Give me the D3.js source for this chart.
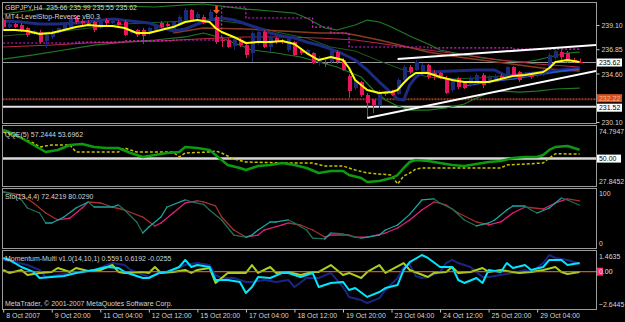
<!DOCTYPE html>
<html>
<head>
  <meta charset="utf-8">
  <title>GBPJPY,H4</title>
  <script src="https://d3js.org/d3.v7.min.js"></script>
  <style>
    body { margin: 0; background: #000; }
    svg { display: block; }
    text { font-family: "Liberation Sans", Arial, sans-serif; font-size: 8px; fill: #d4d4d4; }
  </style>
</head>
<body>
  <div id="chart"></div>
  <script>
    // ---- candles (GBPJPY H4), one value per bar ----
    const candleOpen = [239.56,238.91,239.19,239.10,238.82,238.27,238.45,237.62,237.99,238.36,238.73,238.91,239.75,239.47,239.29,239.38,238.82,239.56,239.29,239.38,
      239.38,238.36,238.64,238.64,238.27,238.64,239.29,239.19,238.45,239.10,239.56,240.49,239.75,239.84,239.56,239.84,237.71,237.71,237.15,237.71,
      237.24,236.50,237.43,238.45,237.06,237.89,237.62,236.78,237.52,236.78,236.41,236.50,235.57,235.57,235.67,236.59,235.85,234.37,233.25,233.81,
      232.60,232.14,231.58,232.79,232.88,232.69,234.00,235.20,234.92,234.65,235.39,234.65,234.65,234.18,233.07,234.18,233.72,233.53,233.72,234.46,
      233.81,234.09,234.37,234.37,235.20,234.74,234.27,234.55,234.46,234.46,234.74,236.04,236.59,236.50,235.85,235.66];
    const candleHigh = [239.75,239.29,239.29,239.29,238.91,238.64,238.64,238.27,238.64,238.91,239.38,239.94,239.94,239.66,239.56,239.47,239.84,239.75,239.56,239.56,
      239.56,238.73,238.73,238.82,238.91,239.19,239.47,239.38,239.47,240.03,240.68,240.58,240.31,240.03,240.58,240.03,237.99,237.89,237.99,237.89,
      237.43,238.54,238.64,238.64,238.17,237.99,237.80,237.99,237.62,236.97,236.87,236.59,236.22,235.85,236.97,236.78,236.04,234.55,234.09,233.90,
      232.79,232.23,233.07,232.97,233.07,234.18,235.39,235.39,235.85,235.57,235.48,234.92,234.74,234.37,234.18,234.27,233.90,234.37,234.65,234.65,
      234.46,234.55,234.55,235.30,235.30,234.83,234.74,234.65,234.83,235.02,236.50,236.87,236.78,236.69,236.04,235.99];
    const candleLow = [238.73,238.82,238.82,238.45,237.99,238.17,237.34,236.97,237.80,238.27,238.64,238.82,239.19,239.10,239.01,238.45,238.73,239.10,239.19,238.91,
      238.08,238.27,237.99,237.34,238.17,238.54,238.82,238.91,238.36,239.01,239.47,239.47,239.66,239.19,239.47,237.34,237.06,236.97,236.78,237.06,
      236.04,235.67,237.24,236.97,236.59,237.34,237.34,236.59,236.22,236.32,236.32,235.48,235.30,235.20,235.48,235.48,234.83,232.33,233.07,232.42,
      230.47,230.93,231.40,232.51,232.51,232.60,233.81,234.55,234.83,234.46,234.09,234.00,234.09,232.69,232.88,233.16,233.16,233.35,233.62,233.25,
      233.62,234.00,234.00,234.18,234.27,233.81,234.18,234.09,234.27,234.37,234.65,235.85,235.85,235.57,235.57,235.55];
    const candleClose = [238.91,239.19,238.91,238.64,238.17,238.54,237.52,238.17,238.45,238.82,239.19,239.75,239.38,239.29,239.19,238.64,239.66,239.29,239.47,239.10,
      238.17,238.64,238.17,238.08,238.82,239.10,238.91,239.01,239.38,239.84,240.49,239.56,240.12,239.29,240.31,237.52,237.62,237.06,237.89,237.24,
      236.32,238.36,238.45,237.06,237.99,237.52,237.52,237.89,236.32,236.50,236.78,235.57,236.04,235.48,236.78,235.67,234.92,232.97,233.90,232.60,
      231.86,231.68,232.88,232.69,232.60,234.00,235.20,234.74,235.67,235.39,234.27,234.46,234.37,232.79,234.00,233.35,233.25,234.18,234.46,233.53,
      234.27,234.37,234.09,235.20,234.46,234.00,234.55,234.27,234.74,234.92,236.32,236.69,236.13,235.67,235.67,235.62];

    // ---- main window indicators, [bar, price] ----
    const emaFast = [[0,238.64],[2,238.64],[4,238.54],[6,238.27],[8,238.36],[10,238.64],[12,238.91],[14,239.10],[16,239.01],[18,239.01],[20,238.82],[22,238.36],[24,238.36],[26,238.64],[28,238.91],[30,239.38],[32,239.56],[34,239.38],[35,238.82],[36,238.45],[38,237.99],[40,237.43],[42,237.52],[44,237.52],[46,237.62],[48,237.34],[50,236.50],[52,235.85],[54,236.13],[56,235.85],[57,235.11],[58,234.00],[60,233.07],[62,232.79],[64,232.88],[65,233.07],[66,233.72],[67,234.27],[68,234.65],[70,234.65],[72,234.27],[74,234.00],[76,233.81],[78,233.81],[80,233.81],[82,234.09],[84,234.37],[86,234.46],[88,234.65],[89,234.74],[90,235.11],[91,235.67],[93,235.85],[95,235.67]];
    const maNavy = [[0,239.47],[3,239.38],[6,239.19],[9,239.19],[12,239.29],[15,239.47],[18,239.66],[21,239.47],[24,239.29],[26,238.91],[28,238.54],[30,238.73],[32,239.19],[34,239.56],[36,239.75],[38,239.56],[40,239.19],[42,238.82],[44,238.36],[46,238.08],[48,237.89],[50,237.52],[52,237.24],[54,236.87],[56,236.41],[58,235.85],[60,234.92],[62,233.81],[64,232.79],[65,232.23],[66,232.14],[67,233.53],[68,234.27],[69,234.65],[70,234.74],[74,234.83],[78,234.92],[81,234.92],[83,234.37],[86,234.55],[89,234.74],[92,234.92],[95,235.11]];
    const maBlue = [[76,233.44],[80,233.81],[84,234.09],[88,234.46],[92,234.83],[95,235.02]];
    const bbUpper = [[0,240.12],[5,240.49],[10,240.77],[15,240.86],[20,240.86],[25,240.77],[30,240.96],[33,241.05],[36,240.86],[40,240.58],[44,240.40],[48,240.21],[50,239.75],[53,238.82],[55,238.64],[58,239.10],[60,239.56],[62,239.38],[64,238.91],[67,238.08],[70,237.34],[72,236.78],[76,236.32],[79,236.04],[83,235.76],[86,235.67],[88,235.85],[90,236.13],[93,236.50],[95,236.59]];
    const bbMiddle = [[0,238.08],[10,238.54],[20,239.19],[30,239.47],[35,239.56],[40,239.19],[45,238.45],[50,237.89],[54,237.06],[58,236.69],[62,235.76],[66,234.92],[70,234.27],[74,234.09],[78,234.18],[82,234.37],[86,234.27],[90,234.65],[95,234.92]];
    const bbLower = [[0,235.94],[5,236.32],[10,236.78],[15,237.24],[20,237.52],[25,237.71],[30,237.99],[33,238.36],[36,237.89],[41,236.78],[45,236.50],[49,236.13],[52,235.67],[55,235.20],[57,234.74],[59,234.27],[61,233.07],[63,232.14],[65,231.58],[67,231.21],[70,231.21],[73,231.40],[76,231.77],[78,232.33],[80,232.79],[82,232.97],[85,232.88],[88,232.97],[91,233.16],[95,233.25]];
    const levelStop = [[0,237.43],[12,237.52],[20,237.62],[28,237.71],[36,240.77],[40,239.75],[51,238.91],[54,238.36],[57,237.06],[70,236.97],[84,236.87],[95,236.87]];
    const maBrown = [[28,238.36],[33,238.82],[40,238.73],[46,238.54],[52,238.36],[56,238.36],[58,238.17],[62,237.71],[66,237.15],[70,236.59],[75,236.13],[80,235.76],[85,235.39],[90,235.02],[95,234.83]];
    const maCrimson = [[0,237.06],[8,237.24],[14,237.43],[20,237.52],[26,237.62],[32,237.80],[40,237.99],[46,237.99],[52,237.89],[58,237.71],[64,237.24],[70,236.78],[76,236.32],[82,235.85],[88,235.48],[95,235.20]];
    const reverseArrowBars = [35];
    const trendLines = [[[60,230.47],[97.7,234.83]], [[65,235.94],[97.7,237.24]]];
    const priceTicks = [239.10, 236.85, 234.60, 230.10];
    const bidPrice = 235.62, levelOrange = 232.22, levelWhite = 231.52;

    // ---- QQE(5) ----
    const qqeMain = [[0,73.56],[1,71.91],[3,66.97],[5,61.20],[7,55.44],[9,57.09],[11,61.20],[13,62.03],[15,59.56],[17,58.73],[19,58.73],[21,54.61],[23,51.32],[25,52.97],[27,54.61],[29,55.44],[30,59.56],[32,58.73],[34,57.09],[36,48.85],[37,44.73],[39,42.26],[40,40.61],[42,43.91],[44,44.73],[46,46.38],[48,44.73],[50,42.26],[52,38.14],[54,39.79],[56,39.79],[57,36.49],[59,34.02],[60,30.73],[62,31.55],[64,34.02],[65,36.49],[66,42.26],[67,47.20],[68,48.85],[70,48.02],[72,46.38],[74,44.73],[76,43.91],[78,45.55],[80,47.20],[82,48.02],[84,50.49],[86,51.32],[88,51.32],[89,52.97],[90,57.09],[91,59.56],[93,60.38],[95,57.24]];
    const qqeSignal = [[0,71.91],[3,66.97],[5,62.85],[6,59.56],[8,61.20],[11,61.20],[12,55.44],[19,55.44],[20,58.73],[22,55.44],[28,55.44],[29,51.32],[30,54.61],[34,55.44],[35,56.26],[36,54.61],[38,49.67],[40,47.20],[47,46.38],[51,46.38],[53,43.91],[56,43.91],[58,40.61],[60,38.14],[64,36.49],[65,29.08],[66,35.67],[67,38.14],[68,41.43],[69,42.26],[82,42.26],[83,44.73],[89,46.38],[90,50.49],[91,54.00],[95,53.70]];
    const qqeLevel = 50;

    // ---- Sto(13,4,4) ----
    const stoMain = [[0,94.9],[1,93.2],[3,81.4],[4,67.8],[6,59.3],[7,42.4],[8,42.4],[10,52.5],[12,67.8],[14,78.0],[15,69.5],[18,69.5],[19,72.9],[20,64.4],[22,44.1],[23,25.4],[24,35.6],[26,52.5],[27,69.5],[30,81.4],[31,78.0],[33,74.0],[34,64.4],[36,47.5],[38,22.0],[40,18.6],[41,22.0],[42,30.5],[44,44.1],[45,44.1],[47,47.5],[48,42.4],[50,30.5],[51,16.9],[53,15.3],[54,25.4],[56,23.7],[58,18.6],[59,16.9],[62,22.0],[63,30.5],[65,39.0],[67,57.0],[69,81.4],[71,83.1],[72,76.3],[74,66.1],[76,47.5],[78,37.3],[80,42.4],[81,47.5],[83,64.4],[84,71.2],[86,71.2],[87,64.4],[88,59.3],[90,67.8],[92,84.7],[93,81.4],[95,72.42]];
    const stoSignal = [[0,94.9],[3,89.8],[5,76.3],[7,59.3],[9,47.5],[11,50.8],[13,67.8],[14,78.0],[16,76.3],[18,69.5],[20,64.4],[23,52.5],[25,37.3],[26,42.4],[28,59.3],[30,76.3],[32,79.7],[33,78.0],[35,71.2],[36,52.5],[38,30.5],[40,18.6],[42,22.0],[43,30.5],[46,39.0],[47,42.4],[49,39.0],[51,30.5],[53,18.6],[54,22.0],[57,22.0],[58,18.6],[60,18.6],[63,25.4],[65,33.9],[67,47.5],[69,64.4],[71,78.0],[73,72.9],[75,59.3],[78,44.1],[80,39.0],[82,44.1],[84,59.3],[86,69.5],[89,66.1],[91,76.3],[93,83.1],[95,80.03]];

    // ---- Momentum-Multi v1.0(14,10,1) ----
    const momNavy = [[0,0.83],[2,0.68],[4,0.47],[6,0.12],[7,-0.38],[11,-0.09],[15,0.12],[18,0.61],[20,0.47],[21,0.12],[24,-0.38],[26,-0.09],[28,0.12],[30,0.47],[32,0.61],[34,0.47],[35,-0.24],[36,-0.45],[38,-0.45],[40,-0.73],[41,-0.73],[43,-0.59],[45,-0.73],[47,-0.59],[48,-1.09],[50,-0.45],[52,-0.45],[54,-0.09],[56,-1.09],[57,-1.79],[59,-2.01],[60,-2.22],[62,-1.87],[63,-1.30],[65,-0.45],[66,0.33],[67,0.50],[68,-0.31],[69,-0.45],[70,-0.38],[72,-0.02],[73,0.61],[74,0.83],[75,0.61],[77,0.33],[79,-0.38],[80,-0.38],[82,-0.24],[84,-0.09],[86,0.12],[87,-0.02],[89,0.61],[90,1.18],[91,0.97],[93,0.83],[95,0.5591]];
    const momCyan = [[0,0.97],[1,0.83],[3,0.33],[5,-0.02],[6,-0.45],[8,-0.38],[10,-0.31],[12,-0.09],[15,0.12],[17,0.33],[19,0.26],[20,-0.02],[23,-0.45],[24,-0.45],[26,-0.02],[27,-0.02],[29,0.33],[30,0.83],[31,0.33],[32,0.47],[34,0.33],[35,-0.59],[37,-0.59],[39,-0.73],[40,-1.51],[41,-1.09],[42,-0.38],[44,-0.45],[46,-0.09],[47,-0.09],[49,-0.38],[51,-0.09],[52,-1.09],[54,-0.80],[56,-0.73],[57,-1.30],[58,-1.16],[60,-1.79],[62,-1.44],[63,-1.16],[65,-0.94],[66,0.12],[67,0.68],[69,1.18],[70,0.97],[72,0.33],[74,0.33],[75,-0.59],[76,-0.80],[78,-0.45],[79,-0.80],[80,0.12],[82,-0.02],[83,0.61],[84,0.26],[86,0.47],[87,0.12],[89,0.33],[90,0.83],[92,0.83],[93,0.47],[95,0.6192]];
    const momGreen = [[0,0.12],[1,-0.09],[3,0.12],[4,-0.24],[6,-0.09],[8,-0.02],[9,0.26],[11,-0.02],[12,0.26],[14,0.05],[16,0.12],[18,0.47],[19,-0.02],[20,-0.09],[23,-0.02],[24,-0.09],[25,0.33],[26,-0.09],[28,-0.02],[30,0.12],[31,-0.09],[32,0.12],[34,0.26],[35,-0.80],[37,-0.09],[40,-0.09],[41,0.47],[42,-0.09],[44,0.33],[45,-0.09],[47,-0.02],[49,-0.24],[51,-0.02],[52,-0.02],[54,0.47],[56,-0.24],[57,-0.09],[59,-0.45],[60,-0.02],[62,0.47],[63,-0.09],[66,0.61],[67,0.12],[70,-0.38],[71,-0.09],[73,-0.02],[74,0.33],[75,-0.09],[77,-0.02],[79,0.26],[80,-0.02],[82,0.12],[84,-0.02],[85,-0.09],[87,-0.02],[89,0.12],[91,0.33],[92,-0.02],[93,-0.17],[95,-0.0255]];

    // ---- time axis ----
    const timeTickBars = [0, 8, 16, 24, 32, 40, 48, 56, 64, 72, 80, 88];
    const timeLabels = ["8 Oct 2007", "9 Oct 20:00", "11 Oct 04:00", "12 Oct 12:00", "15 Oct 20:00", "17 Oct 04:00",
      "18 Oct 12:00", "19 Oct 20:00", "23 Oct 04:00", "24 Oct 12:00", "25 Oct 20:00", "29 Oct 04:00"];

    // ---- layout ----
    const width = 625, height = 322;
    const left = 2.5, right = 596.5;
    const squeeze = 0.87;   // terminal font is narrow
    const panels = {
      main: { top: 2.5, bottom: 123.5 },
      qqe: { top: 125.5, bottom: 186.5 },
      sto: { top: 188.5, bottom: 248.5 },
      mom: { top: 250.5, bottom: 309.5 }
    };

    const x = d3.scaleLinear().domain([-0.2, 97.7]).range([2, 596]);
    const yMain = d3.scaleLinear().domain([230.10, 239.10]).range([122, 25]);
    const yQqe = d3.scaleLinear().domain([27.8452, 74.7947]).range([185.5, 128.5]);
    const ySto = d3.scaleLinear().domain([0, 100]).range([248, 189]);
    const yMom = d3.scaleLinear().domain([-2.6445, 1.4635]).range([309, 251]);

    const svg = d3.select("#chart").append("svg")
      .attr("width", width)
      .attr("height", height)
      .style("background", "#000");

    // clip each window
    const defs = svg.append("defs");
    const layer = {};
    Object.entries(panels).forEach(([name, p]) => {
      defs.append("clipPath").attr("id", "clip-" + name)
        .append("rect")
        .attr("x", left + 0.5).attr("y", p.top + 0.5)
        .attr("width", right - left - 1).attr("height", p.bottom - p.top - 1);
      layer[name] = svg.append("g").attr("clip-path", `url(#clip-${name})`);
    });

    const lineOf = (yScale, curve = d3.curveLinear) => d3.line()
      .x(d => x(d[0]))
      .y(d => yScale(d[1]))
      .curve(curve);

    function drawLine(g, data, yScale, color, w, dash, curve) {
      g.append("path")
        .datum(data)
        .attr("fill", "none")
        .attr("stroke", color)
        .attr("stroke-width", w)
        .attr("stroke-dasharray", dash || null)
        .attr("stroke-linejoin", "round")
        .attr("d", lineOf(yScale, curve));
    }

    function hLevel(g, yScale, value, color, w, dash) {
      g.append("line")
        .attr("x1", left).attr("x2", right)
        .attr("y1", yScale(value)).attr("y2", yScale(value))
        .attr("stroke", color)
        .attr("stroke-width", w)
        .attr("stroke-dasharray", dash || null);
    }

    // ---- main window ----
    const m = layer.main;
    hLevel(m, yMain, bidPrice, "#9a9a9a", 1);
    hLevel(m, yMain, levelOrange, "#9a3a1c", 2, "2,1");
    hLevel(m, yMain, levelWhite, "#e2e2e2", 2);

    drawLine(m, bbUpper, yMain, "#1f7a24", 1.2);
    drawLine(m, bbMiddle, yMain, "#17601b", 1);
    drawLine(m, bbLower, yMain, "#1f7a24", 1.2);
    drawLine(m, maCrimson, yMain, "#b8284a", 1);
    drawLine(m, maBrown, yMain, "#8b3a22", 1.5);
    drawLine(m, levelStop, yMain, "#e020e0", 1.2, "2,2", d3.curveStepAfter);
    drawLine(m, maNavy, yMain, "#1c2a80", 3);
    drawLine(m, maBlue, yMain, "#2a55d8", 1.5);

    const bars = candleOpen.map((o, i) => ({ i, o, h: candleHigh[i], l: candleLow[i], c: candleClose[i] }));
    const bull = "#1c2a7c", bear = "#e8145c";

    m.selectAll(".wick").data(bars).join("line")
      .attr("class", "wick")
      .attr("x1", d => Math.round(x(d.i)) + 0.5)
      .attr("x2", d => Math.round(x(d.i)) + 0.5)
      .attr("y1", d => yMain(d.h))
      .attr("y2", d => yMain(d.l))
      .attr("stroke", d => d.c >= d.o ? bull : "#c8284c")
      .attr("stroke-width", 1);

    m.selectAll(".body").data(bars).join("rect")
      .attr("class", "body")
      .attr("x", d => Math.round(x(d.i)) - 1.5)
      .attr("width", 4)
      .attr("y", d => yMain(Math.max(d.o, d.c)))
      .attr("height", d => Math.max(1, Math.abs(yMain(d.o) - yMain(d.c))))
      .attr("fill", d => d.c >= d.o ? bull : bear)
      .attr("shape-rendering", "crispEdges");

    drawLine(m, emaFast, yMain, "#ffff00", 2);

    // reverse arrow above the bar
    m.selectAll(".arrow").data(reverseArrowBars).join("path")
      .attr("class", "arrow")
      .attr("fill", "#ff5a1e")
      .attr("d", i => {
        const cx = Math.round(x(i)) + 0.5;
        const tip = yMain(candleHigh[i]) - 1;
        return `M${cx},${tip} L${cx - 3.5},${tip - 4} L${cx - 1.2},${tip - 4} L${cx - 1.2},${tip - 8}` +
          ` L${cx + 1.2},${tip - 8} L${cx + 1.2},${tip - 4} L${cx + 3.5},${tip - 4} Z`;
      });

    m.selectAll(".trend").data(trendLines).join("line")
      .attr("class", "trend")
      .attr("x1", d => x(d[0][0])).attr("y1", d => yMain(d[0][1]))
      .attr("x2", d => x(d[1][0])).attr("y2", d => yMain(d[1][1]))
      .attr("stroke", "#ffffff")
      .attr("stroke-width", 2);

    // ---- QQE window ----
    const q = layer.qqe;
    hLevel(q, yQqe, qqeLevel, "#d8d8d8", 2.5);
    drawLine(q, qqeSignal, yQqe, "#c4c400", 1.5, "3,2");
    drawLine(q, qqeMain, yQqe, "#0c9a10", 2.5);

    // ---- Stochastic window, colour by direction ----
    const s = layer.sto;
    function drawSegments(g, data, yScale, upColor, downColor, w) {
      g.selectAll(null).data(d3.pairs(data)).join("line")
        .attr("x1", d => x(d[0][0])).attr("y1", d => yScale(d[0][1]))
        .attr("x2", d => x(d[1][0])).attr("y2", d => yScale(d[1][1]))
        .attr("stroke", d => d[1][1] >= d[0][1] ? upColor : downColor)
        .attr("stroke-width", w)
        .attr("stroke-linecap", "round");
    }
    drawSegments(s, stoSignal, ySto, "#e0207a", "#a8302a", 1.3);
    drawSegments(s, stoMain, ySto, "#1aa6a0", "#1e7058", 1.3);

    // ---- Momentum window ----
    const mo = layer.mom;
    hLevel(mo, yMom, 0, "#ff8000", 1);
    drawLine(mo, momNavy, yMom, "#1a2484", 2);
    drawLine(mo, momGreen, yMom, "#a8d020", 2);
    drawLine(mo, momCyan, yMom, "#00e6ff", 2);
    hLevel(mo, yMom, 0, "#ff1a70", 1, "1,1");

    // ---- window frames ----
    Object.values(panels).forEach(p => {
      svg.append("rect")
        .attr("x", left).attr("y", p.top)
        .attr("width", right - left).attr("height", p.bottom - p.top)
        .attr("fill", "none")
        .attr("stroke", "#9c9c9c")
        .attr("stroke-width", 1);
    });

    // ---- right scales ----
    function rightAxis(scale, values, fmt, size, shifts) {
      const g = svg.append("g")
        .attr("transform", `translate(${right},0)`)
        .call(d3.axisRight(scale).tickValues(values).tickFormat(fmt).tickSize(size).tickPadding(size ? 2 : 2.5));
      g.select(".domain").remove();
      g.selectAll(".tick line").attr("stroke", "#c8c8c8");
      if (shifts) g.selectAll(".tick text").attr("dy", (d, i) => (2.7 + shifts[i]) + "px");
      return g;
    }
    rightAxis(yMain, priceTicks, d3.format(".2f"), 3);
    rightAxis(yQqe, [74.7947, 27.8452], d3.format(".4f"), 0, [2.5, -4.5]);
    rightAxis(ySto, [100, 0], d3.format("d"), 0, [4, -5]);
    rightAxis(yMom, [1.4635, -2.6445], d3.format(".4f"), 0, [5, -5]);

    // price / level boxes on the scale
    function scaleBox(y, label, fill, ink, boxW) {
      svg.append("rect")
        .attr("x", right + 0.5).attr("y", y - 4)
        .attr("width", boxW).attr("height", 8)
        .attr("fill", fill);
      svg.append("text")
        .attr("x", right + 2.5).attr("y", y)
        .attr("dy", "0.34em")
        .style("fill", ink)
        .text(label);
    }
    scaleBox(yMain(bidPrice), d3.format(".2f")(bidPrice), "#ffffff", "#000000", 25);
    scaleBox(yMain(levelOrange) - 1, d3.format(".2f")(levelOrange), "#d6521c", "#ffb48a", 25);
    scaleBox(yMain(levelWhite) + 1, d3.format(".2f")(levelWhite), "#ffffff", "#000000", 25);
    scaleBox(yQqe(qqeLevel), d3.format(".2f")(qqeLevel), "#ffffff", "#000000", 24);
    scaleBox(yMom(0), "0.00", "#ff2d6f", "#e8e8e8", 6);

    // ---- time axis ----
    const tAxis = svg.append("g")
      .attr("transform", `translate(0,${panels.mom.bottom})`)
      .call(d3.axisBottom(x).tickValues(timeTickBars)
        .tickFormat((d, i) => timeLabels[i]).tickSize(3).tickPadding(0));
    tAxis.select(".domain").remove();
    tAxis.selectAll(".tick line").attr("stroke", "#c8c8c8");
    tAxis.selectAll(".tick text").attr("text-anchor", "start").attr("dx", 2.5);

    // ---- window captions ----
    const captions = [
      ["GBPJPY,H4  235.66 235.99 235.55 235.62", 10.5],
      ["MT4-LevelStop-Reverse vB0.3", 19.5],
      ["QQE(5) 57.2444 53.6962", 137],
      ["Sto(13,4,4) 72.4219 80.0290", 199],
      ["Momentum-Multi v1.0(14,10,1) 0.5591 0.6192 -0.0255", 261],
      ["MetaTrader, \u00a9 2001-2007 MetaQuotes Software Corp.", 306]
    ];
    svg.selectAll(".caption").data(captions).join("text")
      .attr("class", "caption")
      .attr("x", 5)
      .attr("y", d => d[1])
      .style("white-space", "pre")
      .text(d => d[0]);

    // narrow every label horizontally, keeping its left edge in place
    svg.selectAll("text").each(function () {
      const t = d3.select(this);
      const x0 = +t.attr("x") || 0;
      const dx = parseFloat(t.attr("dx")) || 0;
      t.attr("x", x0 / squeeze)
        .attr("dx", dx / squeeze)
        .attr("transform", `scale(${squeeze},1)`);
    });
  </script>
</body>
</html>
